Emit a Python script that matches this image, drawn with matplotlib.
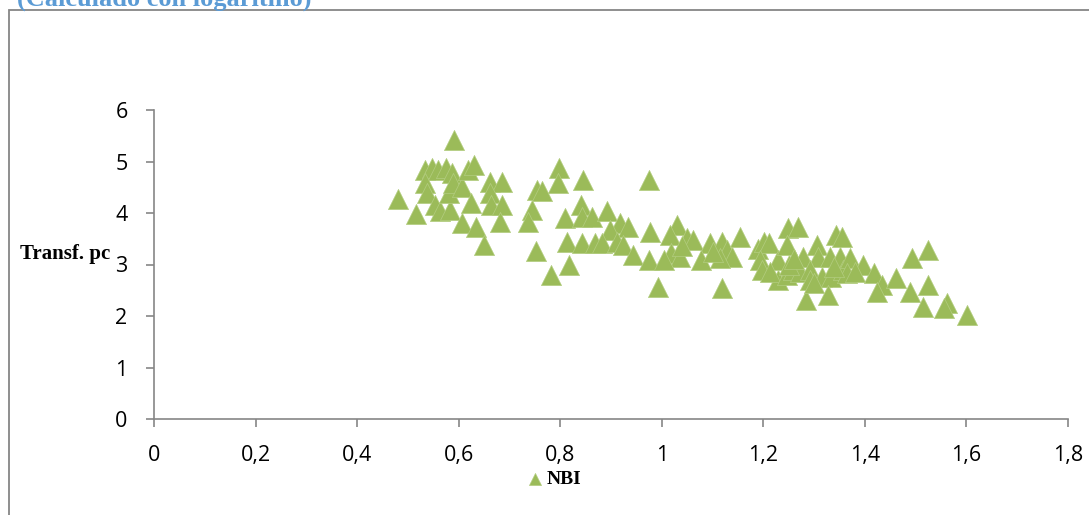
import matplotlib
matplotlib.use("Agg")
from matplotlib import pyplot as plt
from matplotlib.patches import Rectangle

# NBI vs transformed pc
nbi = [0.591, 0.481, 0.515, 0.534, 0.547, 0.560, 0.576, 0.586, 0.534, 0.537,
       0.553, 0.563, 0.583, 0.580, 0.589, 0.606, 0.619, 0.631, 0.606, 0.624,
       0.635, 0.650, 0.662, 0.686, 0.662, 0.664, 0.685, 0.681, 0.755, 0.744,
       0.736, 0.752,
       0.798, 0.796, 0.844, 0.975, 0.765, 0.840, 0.809, 0.842, 0.862, 0.893,
       0.918, 0.934, 0.899, 0.813, 0.842, 0.868, 0.882, 0.911, 0.924, 0.944,
       0.977, 0.975, 1.029, 1.016, 1.049, 1.019, 1.036, 1.004, 0.818, 0.781,
       0.993,
       1.061, 1.095, 1.078, 1.118, 1.128, 1.138, 1.115, 1.155, 1.118, 1.190,
       1.201, 1.212, 1.193, 1.197, 1.229, 1.229, 1.213, 1.249, 1.269, 1.246,
       1.246, 1.259, 1.279, 1.305, 1.308, 1.272, 1.292, 1.292, 1.285, 1.344,
       1.331, 1.351, 1.315, 1.334, 1.357, 1.328,
       1.354, 1.371, 1.397, 1.417, 1.364, 1.433, 1.423, 1.462, 1.492, 1.525,
       1.489, 1.525, 1.515, 1.561, 1.556, 1.602,
       1.300, 1.250, 1.340, 1.380, 1.260, 1.100, 1.040]
transf_pc = [5.42, 4.28, 3.99, 4.83, 4.87, 4.83, 4.87, 4.77, 4.58, 4.38,
             4.16, 4.03, 4.06, 4.38, 4.58, 4.51, 4.83, 4.93, 3.80, 4.19,
             3.73, 3.38, 4.61, 4.61, 4.38, 4.16, 4.16, 3.83, 4.45, 4.06,
             3.83, 3.26,
             4.87, 4.58, 4.65, 4.65, 4.43, 4.16, 3.90, 3.93, 3.93, 4.03,
             3.80, 3.73, 3.67, 3.44, 3.41, 3.41, 3.41, 3.44, 3.38, 3.18,
             3.64, 3.09, 3.77, 3.57, 3.51, 3.22, 3.15, 3.09, 2.99, 2.80,
             2.57,
             3.48, 3.41, 3.09, 3.44, 3.28, 3.15, 3.12, 3.54, 2.54, 3.31,
             3.44, 3.41, 3.09, 2.89, 3.09, 2.70, 2.86, 3.70, 3.73, 3.38,
             2.80, 2.89, 3.15, 3.38, 3.15, 2.86, 2.89, 2.70, 2.31, 3.57,
             3.15, 3.15, 2.76, 2.76, 2.89, 2.41,
             3.54, 3.12, 2.99, 2.83, 2.83, 2.60, 2.47, 2.73, 3.12, 3.28,
             2.47, 2.60, 2.18, 2.25, 2.15, 2.02,
             2.65, 3.00, 2.95, 2.85, 3.10, 3.25, 3.35]

x_ticks = [0, 0.2, 0.4, 0.6, 0.8, 1.0, 1.2, 1.4, 1.6, 1.8]
x_labels = ["0", "0,2", "0,4", "0,6", "0,8", "1", "1,2", "1,4", "1,6", "1,8"]
y_ticks = [0, 1, 2, 3, 4, 5, 6]

green = "#9bbb59"
grey = "#868686"
serif = ["Liberation Serif", "DejaVu Serif"]

fig = plt.figure(figsize=(10.89, 5.15), dpi=100)

# chart area border (only left/top edge visible in the crop)
fig.patches.append(Rectangle((9 / 1089, -0.2), 1.5, 1.2 - 10 / 515,
                             transform=fig.transFigure, fill=False,
                             edgecolor=grey, lw=1.3))

# title sits mostly above the crop, like in the source image
fig.text(17 / 1089, 1 - 6 / 515, "(Calculado con logaritmo)", color="#5b9bd5",
         fontsize=19, fontweight="bold", family=serif, va="baseline", ha="left")

ax = fig.add_axes([154 / 1089, 96 / 515, 914 / 1089, 309 / 515])
ax.scatter(nbi, transf_pc, marker="^", s=14.5 ** 2, color=green,
           edgecolors="#b3cd80", linewidths=0.5, label="NBI", zorder=3)

ax.set_xlim(0, 1.8)
ax.set_ylim(0, 6)
ax.set_xticks(x_ticks)
ax.set_xticklabels(x_labels)
ax.set_yticks(y_ticks)
ax.set_yticklabels([str(v) for v in y_ticks])

for side in ["top", "right"]:
    ax.spines[side].set_visible(False)
for side in ["left", "bottom"]:
    ax.spines[side].set_color(grey)
    ax.spines[side].set_linewidth(1.2)
ax.tick_params(axis="both", direction="out", length=6, width=1.2, color=grey,
               labelsize=15.5, pad=13)
for lab in ax.get_xticklabels() + ax.get_yticklabels():
    lab.set_family(["Open Sans", "DejaVu Sans"])

fig.text(20 / 1089, 1 - 254 / 515, "Transf. pc", fontsize=15,
         fontweight="bold", family=serif, va="center", ha="left")

leg = fig.legend(loc="center", bbox_to_anchor=(554 / 1089, 1 - 479 / 515),
                 frameon=False, markerscale=0.6, handlelength=0.8,
                 handletextpad=0.2, borderpad=0,
                 prop={"family": serif, "weight": "bold", "size": 14})

fig.savefig("out.png", dpi=100)
